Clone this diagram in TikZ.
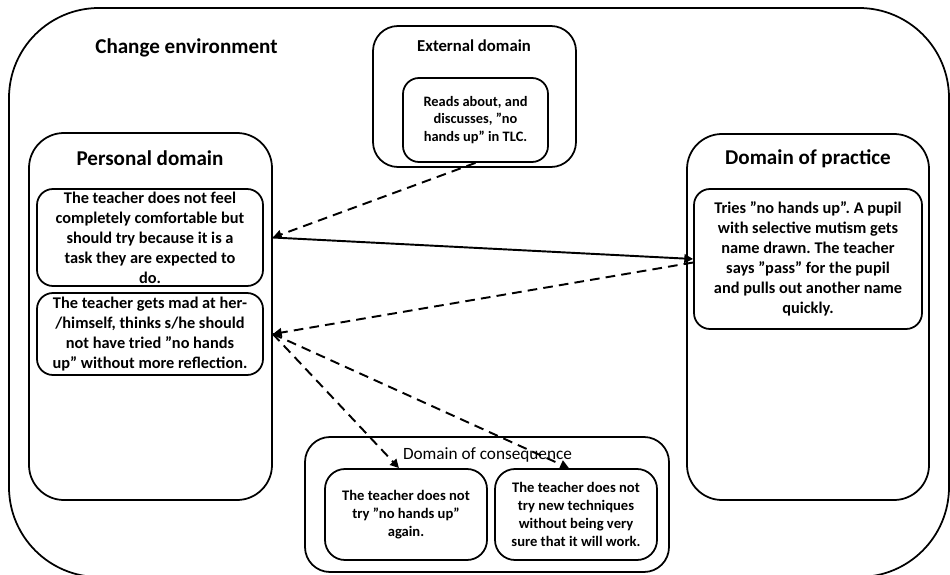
\documentclass[tikz,border=0pt]{standalone}
\usepackage{fontspec}
\setmainfont{Carlito}
\usepackage{tikz}
\usetikzlibrary{arrows.meta,positioning,calc}
\frenchspacing

\begin{document}
\begin{tikzpicture}[
  domainbox/.style={draw,line width=1pt,inner sep=0pt,rounded corners=0.7cm},
  card/.style={draw,line width=1pt,inner sep=0pt,rounded corners=0.32cm,
               align=center,font=\fontsize{9.3}{11.4}\selectfont\bfseries},
  bigtitle/.style={anchor=base,inner sep=0pt,font=\fontsize{12}{14}\selectfont\bfseries},
  link/.style={-{Triangle[length=5pt,width=5pt]},line width=1.1pt},
  dlink/.style={link,dash pattern=on 5.5pt off 3.5pt},
]
\useasboundingbox (0,0) rectangle (19,11.48);

\node[domainbox,rounded corners=1.8cm,minimum width=18.8cm,minimum height=11.38cm] (env) at (9.58,5.63) {};
\node[bigtitle,anchor=base west] (envtitle) at (1.90,10.41) {Change environment};

\node[domainbox,rounded corners=0.5cm,minimum width=4.06cm,minimum height=2.82cm] (ext) at (9.49,9.55) {};
\node[bigtitle,font=\fontsize{9.5}{11}\selectfont\bfseries] (exttitle) at (9.48,10.45) {External domain};
\node[card,font=\fontsize{8.2}{10.1}\selectfont\bfseries,minimum width=2.9cm,minimum height=1.68cm] (extbox) at (9.51,9.08)
  {Reads about, and\\discusses, ”no\\hands up” in TLC.};

\node[domainbox,minimum width=4.86cm,minimum height=7.34cm] (pers) at (3.01,5.15) {};
\node[bigtitle] (perstitle) at (3.0,8.18) {Personal domain};
\node[card,minimum width=4.52cm,minimum height=1.94cm] (pbox1) at (3.0,6.73)
  {The teacher does not feel\\completely comfortable but\\should try because it is a\\task they are expected to\\do.};
\node[card,minimum width=4.52cm,minimum height=1.64cm] (pbox2) at (3.0,4.80)
  {The teacher gets mad at her-\\/himself, thinks s/he should\\not have tried ”no hands\\up” without more reflection.};

\node[domainbox,minimum width=4.84cm,minimum height=7.32cm] (prac) at (16.16,5.14) {};
\node[bigtitle] (practitle) at (16.16,8.20) {Domain of practice};
\node[card,minimum width=4.56cm,minimum height=2.8cm] (pracbox) at (16.16,6.30)
  {Tries ”no hands up”. A pupil\\with selective mutism gets\\name drawn. The teacher\\says ”pass” for the pupil\\and pulls out another name\\quickly.};

\node[domainbox,rounded corners=0.5cm,minimum width=7.28cm,minimum height=2.7cm] (cons) at (9.74,1.39) {};
\node[bigtitle,font=\fontsize{9.8}{11}\selectfont] (constitle) at (9.75,2.29) {Domain of consequence};
\node[card,rounded corners=0.4cm,font=\fontsize{8.3}{10.4}\selectfont\bfseries,minimum width=3.24cm,minimum height=1.82cm] (cleft) at (8.12,1.19)
  {The teacher does not\\try ”no hands up”\\again.};
\node[card,rounded corners=0.4cm,font=\fontsize{8.3}{10.4}\selectfont\bfseries,minimum width=3.24cm,minimum height=1.82cm] (cright) at (11.52,1.19)
  {The teacher does not\\try new techniques\\without being very\\sure that it will work.};

\draw[dlink] (extbox.south) -- (pers.east |- pbox1.east);
\draw[link] (pers.east |- pbox1.east) -- (pracbox.west);
\draw[dlink] ([yshift=-2pt]pracbox.west) -- (pers.east |- pbox2.east);
\draw[dlink] (pers.east |- pbox2.east) -- ([xshift=-4pt]cleft.north);
\draw[dlink] (pers.east |- pbox2.east) -- ([xshift=-4pt]cright.north);
\end{tikzpicture}
\end{document}
